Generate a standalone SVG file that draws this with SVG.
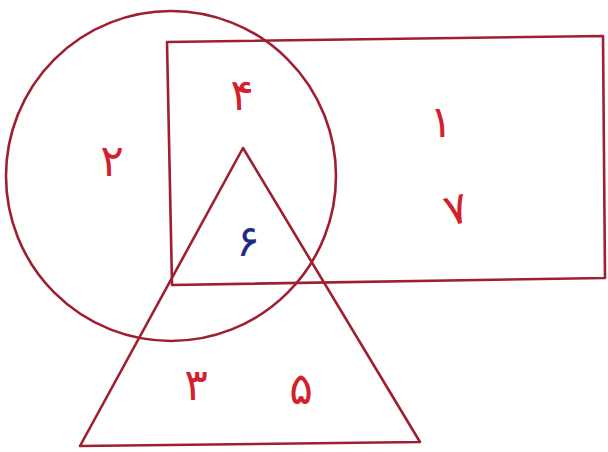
<svg xmlns="http://www.w3.org/2000/svg" width="608" height="452" viewBox="0 0 608 452">
<style>
.shape{fill:none;stroke:#9e1f30;stroke-width:2.6;stroke-linejoin:round;stroke-linecap:round}
.lbl{font-family:"DejaVu Sans",sans-serif;font-size:44px;fill:#d3202c;text-anchor:middle}
.blue{fill:#1f2a85}
</style>
<rect width="608" height="452" fill="#ffffff"/>
<g id="shapes">
<g id="circle"><circle class="shape" cx="171" cy="176" r="165"/></g>
<g id="rectangle"><path class="shape" d="M167,42 L603,36 L605,278 L172,285 Z"/></g>
<g id="triangle"><path class="shape" d="M243,148 L420,442 L80,446 Z"/></g>
</g>
<g id="labels">
<text class="lbl" x="242" y="110">۴</text>
<text class="lbl" x="112" y="176">۲</text>
<text class="lbl" x="441" y="137">۱</text>
<text class="lbl" x="456" y="224" transform="rotate(-15 456 208)">۷</text>
<text class="lbl blue" x="248" y="256">۶</text>
<text class="lbl" x="196" y="400">۳</text>
<text class="lbl" x="301" y="404">۵</text>
</g>
</svg>
